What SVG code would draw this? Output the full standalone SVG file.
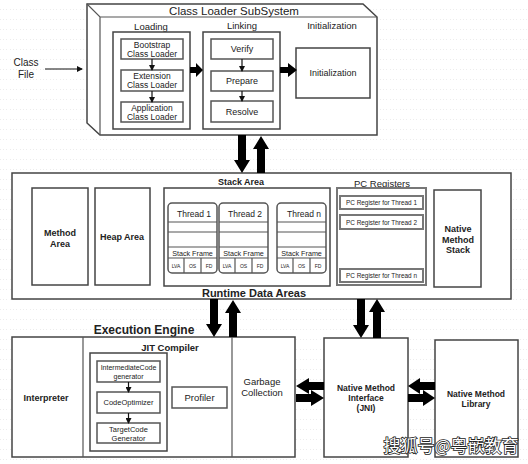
<svg xmlns="http://www.w3.org/2000/svg" width="528" height="464" viewBox="0 0 528 464">
<defs>
<pattern id="grid" width="10" height="10" patternUnits="userSpaceOnUse">
<rect x="0" y="9" width="1" height="1" fill="#ececec"/><rect x="3" y="9" width="1" height="1" fill="#ececec"/><rect x="6" y="9" width="1" height="1" fill="#ececec"/>
</pattern>
<marker id="ah" markerWidth="6" markerHeight="6" refX="5" refY="3" orient="auto" markerUnits="userSpaceOnUse"><path d="M0,0 L6,3 L0,6 z" fill="#111"/></marker>
</defs>
<style>
text{font-family:"Liberation Sans",Arial,sans-serif;fill:#222;text-anchor:middle}
.box{fill:#fff;stroke:#444;stroke-width:1.5}
.ibox{fill:#fff;stroke:#555;stroke-width:1.5}
.b{font-weight:bold}
.thin{stroke:#111;stroke-width:1.2;fill:none;marker-end:url(#ah)}
.big{fill:#000}
.pc{fill:#fff;stroke:#777;stroke-width:2}
.ln{stroke:#555;stroke-width:1.2;fill:none}
</style>
<rect width="528" height="464" fill="#fff"/>
<rect width="528" height="464" fill="url(#grid)"/>

<g id="class-file">
<text x="26" y="66" font-size="10">Class</text>
<text x="26" y="78" font-size="10">File</text>
</g>

<g id="class-loader-subsystem">
<path d="M87,4 L363,4 L377,17 L377,135 L100,135 L87,123 Z" class="box"/>
<path d="M87,4 L100,17 L377,17 M100,17 L100,135" class="ln" stroke="#444" stroke-width="1.5"/>
<text x="234" y="15" font-size="11.5">Class Loader SubSystem</text>
</g>

<g id="loading">
<text x="151" y="30" font-size="9.5">Loading</text>
<rect x="113" y="32" width="77" height="97" class="box"/>
</g>
<g id="bootstrap"><rect x="121" y="39" width="62" height="20" class="ibox"/><text x="152" y="47.5" font-size="8.5">Bootstrap</text><text x="152" y="56.5" font-size="8.5">Class Loader</text></g>
<g id="extension"><rect x="121" y="70" width="62" height="21" class="ibox"/><text x="152" y="79" font-size="8.5">Extension</text><text x="152" y="88" font-size="8.5">Class Loader</text></g>
<g id="application"><rect x="121" y="102" width="62" height="20" class="ibox"/><text x="152" y="110.5" font-size="8.5">Application</text><text x="152" y="119.5" font-size="8.5">Class Loader</text></g>

<g id="linking">
<text x="242" y="29" font-size="9.5">Linking</text>
<rect x="203" y="32" width="77" height="97" class="box"/>
</g>
<g id="verify"><rect x="211" y="39" width="62" height="20" class="ibox"/><text x="242" y="52" font-size="9">Verify</text></g>
<g id="prepare"><rect x="211" y="71" width="62" height="20" class="ibox"/><text x="242" y="84" font-size="9">Prepare</text></g>
<g id="resolve"><rect x="211" y="101" width="62" height="21" class="ibox"/><text x="242" y="114.5" font-size="9">Resolve</text></g>

<g id="initialization">
<text x="332" y="29" font-size="9.5">Initialization</text>
<rect x="296" y="48" width="74" height="50" class="box"/>
<text x="333" y="76" font-size="9">Initialization</text>
</g>

<g id="runtime-data-areas">
<rect x="12" y="173" width="499" height="126" class="box"/>
<text x="254" y="297" font-size="11" class="b">Runtime Data Areas</text>
</g>
<g id="method-area"><rect x="32" y="188" width="56" height="97" class="box"/><text x="60" y="236" font-size="9" class="b">Method</text><text x="60" y="246.5" font-size="9" class="b">Area</text></g>
<g id="heap-area"><rect x="95" y="188" width="55" height="97" class="box"/><text x="122" y="240" font-size="9" class="b">Heap Area</text></g>

<g id="stack-area">
<text x="241" y="185" font-size="9" class="b">Stack Area</text>
<rect x="164" y="188" width="166" height="98" class="box"/>
</g>
<g id="thread-1" transform="translate(168,203)">
<rect x="0" y="0" width="49" height="70" rx="4" class="ibox"/>
<path d="M0,19 H49 M0,29 H49 M0,44 H49 M0,55 H49 M16,55 V70 M33,55 V70" class="ln"/>
<text x="26" y="13.5" font-size="8.5">Thread 1</text>
<text x="24.5" y="52.5" font-size="7.2">Stack Frame</text>
<text x="8" y="65" font-size="5">LVA</text><text x="24.5" y="65" font-size="5">OS</text><text x="41" y="65" font-size="5">FD</text>
</g>
<g id="thread-2" transform="translate(219,203)">
<rect x="0" y="0" width="49" height="70" rx="4" class="ibox"/>
<path d="M0,19 H49 M0,29 H49 M0,44 H49 M0,55 H49 M16,55 V70 M33,55 V70" class="ln"/>
<text x="26" y="13.5" font-size="8.5">Thread 2</text>
<text x="24.5" y="52.5" font-size="7.2">Stack Frame</text>
<text x="8" y="65" font-size="5">LVA</text><text x="24.5" y="65" font-size="5">OS</text><text x="41" y="65" font-size="5">FD</text>
</g>
<g id="thread-n" transform="translate(277,203)">
<rect x="0" y="0" width="49" height="70" rx="4" class="ibox"/>
<path d="M0,19 H49 M0,29 H49 M0,44 H49 M0,55 H49 M16,55 V70 M33,55 V70" class="ln"/>
<text x="27" y="13.5" font-size="8.5">Thread n</text>
<text x="24.5" y="52.5" font-size="7.2">Stack Frame</text>
<text x="8" y="65" font-size="5">LVA</text><text x="24.5" y="65" font-size="5">OS</text><text x="41" y="65" font-size="5">FD</text>
</g>

<g id="pc-registers">
<text x="382" y="187" font-size="9.5">PC Registers</text>
<rect x="337" y="188" width="89" height="97" class="pc"/>
<rect x="340" y="196" width="83" height="13" class="pc"/><text x="381.5" y="205" font-size="6.4">PC Register for Thread 1</text>
<rect x="340" y="215" width="83" height="14" class="pc"/><text x="381.5" y="224.5" font-size="6.4">PC Register for Thread 2</text>
<rect x="340" y="269" width="83" height="13" class="pc"/><text x="381.5" y="278" font-size="6.4">PC Register for Thread n</text>
</g>

<g id="native-method-stack"><rect x="434" y="190" width="47" height="97" class="box"/><text x="458" y="232" font-size="9" class="b">Native</text><text x="458" y="242.5" font-size="9" class="b">Method</text><text x="458" y="253" font-size="9" class="b">Stack</text></g>

<g id="execution-engine">
<text x="144" y="334" font-size="12" class="b">Execution Engine</text>
<rect x="12" y="337" width="283" height="120" class="box"/>
<path d="M83,337 V457 M232,337 V457" class="ln" stroke="#444" stroke-width="1.5"/>
</g>
<g id="interpreter"><text x="46" y="401" font-size="9" class="b">Interpreter</text></g>
<g id="jit-compiler">
<text x="170" y="351" font-size="9.5" class="b">JIT Compiler</text>
<rect x="90" y="353" width="77" height="98" class="box"/>
</g>
<g id="intermediate-code"><rect x="97" y="361" width="63" height="21" class="ibox"/><text x="128.5" y="369.5" font-size="7">IntermediateCode</text><text x="128.5" y="378.5" font-size="7">generator</text></g>
<g id="code-optimizer"><rect x="97" y="392" width="63" height="21" class="ibox"/><text x="128.5" y="405" font-size="7.5">CodeOptimizer</text></g>
<g id="target-code"><rect x="97" y="423" width="63" height="20" class="ibox"/><text x="128.5" y="431.5" font-size="7.5">TargetCode</text><text x="128.5" y="440.5" font-size="7.5">Generator</text></g>
<g id="profiler"><rect x="172" y="387" width="55" height="21" class="ibox"/><text x="199.5" y="401" font-size="9.5">Profiler</text></g>
<g id="garbage-collection"><text x="262" y="385" font-size="9.5">Garbage</text><text x="262" y="396" font-size="9.5">Collection</text></g>

<g id="jni"><rect x="324" y="338" width="84" height="119" class="box"/><text x="366" y="391" font-size="8.5" class="b">Native Method</text><text x="366" y="401" font-size="8.5" class="b">Interface</text><text x="366" y="411" font-size="8.5" class="b">(JNI)</text></g>
<g id="native-method-library"><rect x="435" y="340" width="83" height="117" class="box"/><text x="476" y="397" font-size="8.5" class="b">Native Method</text><text x="476" y="407" font-size="8.5" class="b">Library</text></g>

<g id="connectors">
<line x1="45" y1="69" x2="82" y2="69" class="thin"/>
<line x1="152" y1="59" x2="152" y2="70" class="thin"/>
<line x1="152" y1="91" x2="152" y2="102" class="thin"/>
<line x1="242" y1="59" x2="242" y2="71" class="thin"/>
<line x1="242" y1="91" x2="242" y2="101" class="thin"/>
<line x1="128.5" y1="382" x2="128.5" y2="392" class="thin"/>
<line x1="128.5" y1="413" x2="128.5" y2="423" class="thin"/>
<polygon class="big" points="190,67 196,67 196,63 203,70 196,77 196,73 190,73"/>
<polygon class="big" points="280,67 288,67 288,63 297,70 288,77 288,73 280,73"/>
<polygon class="big" points="238,135 246,135 246,160 250,160 242,173 234,160 238,160"/>
<polygon class="big" points="257,173 265,173 265,149 269,149 261,136 253,149 257,149"/>
<polygon class="big" points="210,299 218,299 218,324 222,324 214,337 206,324 210,324"/>
<polygon class="big" points="229,337 237,337 237,313 241,313 233,300 225,313 229,313"/>
<polygon class="big" points="357,299 365,299 365,325 369,325 361,338 353,325 357,325"/>
<polygon class="big" points="373,338 381,338 381,312 385,312 377,299 369,312 373,312"/>
<polygon class="big" points="324,382 309,382 309,378 296,386 309,394 309,390 324,390"/>
<polygon class="big" points="296,394 311,394 311,390 324,398 311,406 311,402 296,402"/>
<polygon class="big" points="435,382 420,382 420,378 408,386 420,394 420,390 435,390"/>
<polygon class="big" points="408,394 423,394 423,390 435,398 423,406 423,402 408,402"/>
</g>

<text x="451" y="452" font-size="17" font-family="'Noto Sans CJK SC',sans-serif" style="fill:#fff;stroke:#222;stroke-width:1.6;paint-order:stroke;font-family:'Noto Sans CJK SC',sans-serif">搜狐号@粤嵌教育</text>
</svg>
